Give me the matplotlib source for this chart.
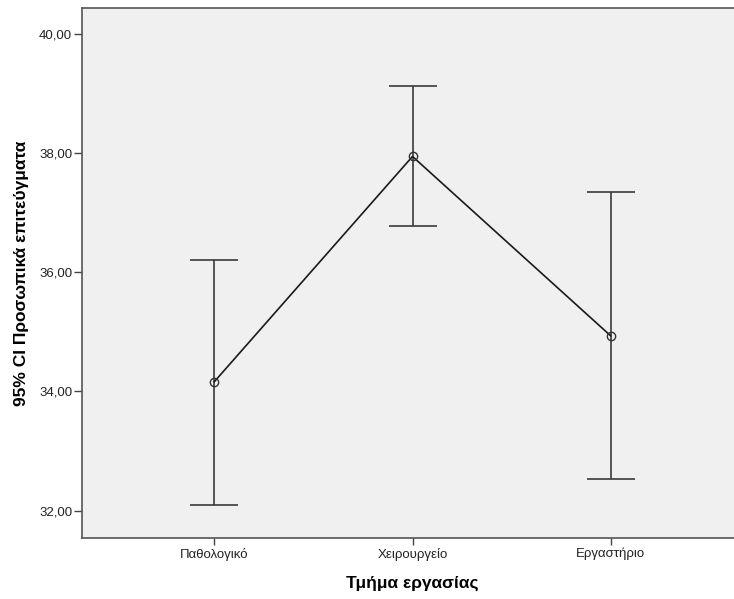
import matplotlib
matplotlib.use("Agg")
import matplotlib.pyplot as plt
from matplotlib.ticker import FuncFormatter

plt.rcParams['font.family'] = ['Liberation Sans', 'DejaVu Sans']

categories = ['Παθολογικό', 'Χειρουργείο', 'Εργαστήριο']
means = [34.16, 37.94, 34.93]
upper = [36.21, 39.12, 37.34]
lower = [32.10, 36.78, 32.53]
yticks = [32, 34, 36, 38, 40]

W, H = 734, 599
fig = plt.figure(figsize=(W / 100, H / 100), dpi=100)
# axes box in pixels: left 82, top 8, bottom 538, right beyond the image
left, top, bottom, right = 82, 8, 538, 743
ax = fig.add_axes([left / W, 1 - bottom / H, (right - left) / W, (bottom - top) / H])
ax.set_facecolor('#f0f0f0')

x = list(range(len(categories)))
err = [[m - l for m, l in zip(means, lower)], [u - m for m, u in zip(means, upper)]]
ax.errorbar(x, means, yerr=err, fmt='none', ecolor='#3a3a3a', elinewidth=1.2,
            capsize=17, capthick=1.2, zorder=2)
ax.plot(x, means, color='#1a1a1a', lw=1.2, marker='o', markersize=6,
        markerfacecolor='none', markeredgecolor='#333333', markeredgewidth=1, zorder=3)

ax.set_xlim(-0.667, 2.667)
ax.set_ylim(31.54, 40.43)
ax.set_xticks(x)
ax.set_xticklabels(categories, fontsize=9.5, color='#222222')
ax.set_yticks(yticks)
ax.yaxis.set_major_formatter(FuncFormatter(lambda v, p: f'{v:.2f}'.replace('.', ',')))
ax.tick_params(axis='y', labelsize=9.5, labelcolor='#222222', length=6, width=1,
               color='#444444', pad=1)
ax.tick_params(axis='x', length=5, width=1, color='#444444', pad=2)

for s in ['left', 'bottom', 'top']:
    ax.spines[s].set_color('#555555')
    ax.spines[s].set_linewidth(1.2)
ax.spines['right'].set_visible(False)

ax.set_xlabel('Τμήμα εργασίας', fontsize=12.5, fontweight='bold', labelpad=11)
ax.set_ylabel('95% CI Προσωπικά επιτεύγματα', fontsize=12.5, fontweight='bold', labelpad=7)

fig.savefig('out.png', dpi=100)
